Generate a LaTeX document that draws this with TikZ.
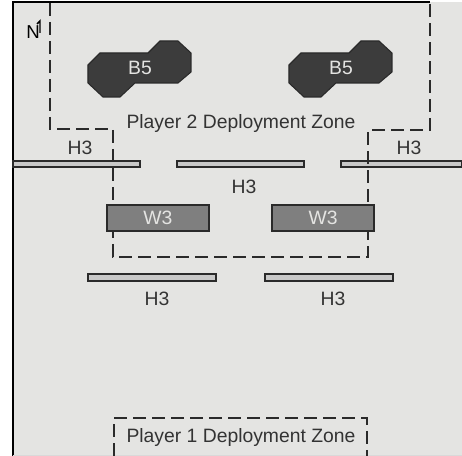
\documentclass[tikz,border=0pt]{standalone}
\usepackage{fontspec}
\setmainfont{Liberation Sans}
\definecolor{board}{HTML}{E4E4E2}
\definecolor{bldg}{HTML}{3C3C3C}
\definecolor{wall}{HTML}{7F7F7F}
\definecolor{hedge}{HTML}{C8C8C8}
\definecolor{ink}{HTML}{333333}
\definecolor{edge}{HTML}{2A2A2A}
\tikzset{
  lbl/.style={font=\fontsize{14.5}{17}\selectfont, text=ink, inner sep=0pt},
  lightlbl/.style={font=\fontsize{14.5}{17}\selectfont, text=board, inner sep=0pt},
  zone/.style={draw=edge, line width=1.5pt, dash pattern=on 9.75pt off 4.5pt},
  hbar/.style={draw=edge, fill=hedge, line width=1pt},
  wbox/.style={draw=edge, fill=wall, line width=1pt},
  bbox/.style={draw=edge, fill=bldg, line width=0.8pt, line join=miter},
}
\begin{document}
\begin{tikzpicture}[x=0.75pt,y=-0.75pt]
\useasboundingbox (0,0) rectangle (462,456);
% board
\fill[board] (13,2) rectangle (462,456);
\draw[black, line width=1.5pt] (13,456) -- (13,2.5) -- (430,2.5);
\draw[black!15, line width=0.8pt] (13,455.5) -- (462,455.5);
% hedges row 1
\draw[hbar] (13,161) rectangle (140,167);
\draw[hbar] (177,161) rectangle (304,167);
\draw[hbar] (341,161) rectangle (462,167);
% hedges row 2
\draw[hbar] (88,274) rectangle (216,281);
\draw[hbar] (265,274) rectangle (393,281);
% deployment zones
\draw[zone] (50,3) -- (50,129) -- (113,129) -- (113,257) -- (368,257) -- (368,130) -- (430,130) -- (430,3);
\draw[zone] (114,456) -- (114,418) -- (367,418) -- (367,456);
% walls
\draw[wbox] (107,205) rectangle (209,231);
\draw[wbox] (272,205) rectangle (374,231);
% buildings
\draw[bbox] (100,53) -- (148,53) -- (160,41) -- (178,41) -- (191,53) -- (191,72) -- (178,83) -- (135,83) -- (120,97) -- (103,97) -- (88,83) -- (88,65) -- cycle;
\draw[bbox] (301,53) -- (349,53) -- (361,41) -- (379,41) -- (392,53) -- (392,72) -- (379,83) -- (336,83) -- (321,97) -- (304,97) -- (289,83) -- (289,65) -- cycle;
% labels
\node[lightlbl] (b5a) at (140,68) {B5};
\node[lightlbl] (b5b) at (341,68) {B5};
\node[lightlbl] (w3a) at (158,218) {W3};
\node[lightlbl] (w3b) at (323,218) {W3};
\node[lbl] (h3a) at (80,148) {H3};
\node[lbl] (h3b) at (244,187) {H3};
\node[lbl] (h3c) at (409,148) {H3};
\node[lbl] (h3d) at (157,299) {H3};
\node[lbl] (h3e) at (333,299) {H3};
\node[lbl] (p2) at (241,124) {Player 2 Deployment Zone};
\node[lbl] (p1) at (241,438) {Player 1 Deployment Zone};
% north marker
\node[lbl, font=\fontsize{14}{16}\selectfont, text=black] (north) at (33,32) {N};
\draw[black, line width=1.1pt] (40,33) -- (40,21) -- (37,24);
\end{tikzpicture}
\end{document}
